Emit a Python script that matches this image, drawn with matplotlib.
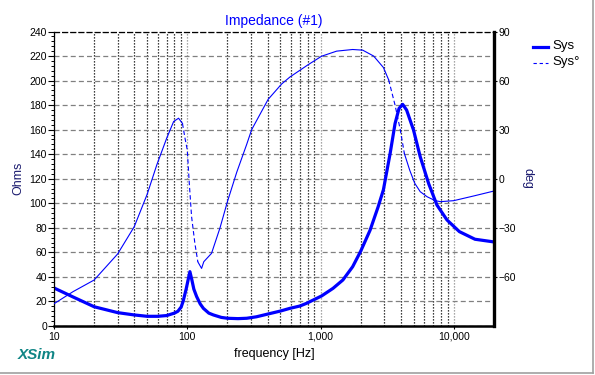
import numpy as np
import matplotlib
matplotlib.use('Agg')
import matplotlib.pyplot as plt
from matplotlib.lines import Line2D
from matplotlib.ticker import FixedLocator, LogLocator, NullFormatter, FixedFormatter, MultipleLocator

plt.rcParams['font.family'] = ['Liberation Sans', 'DejaVu Sans']

# ---- data ----
imp_freq = [10, 14, 20, 30, 40, 50, 60, 70, 80, 85, 90, 93, 98, 104.6, 108, 112, 117.5, 125, 132,
            145, 157, 180, 200, 240, 279, 330, 404, 500, 589, 700, 785, 1018, 1240, 1470, 1740,
            2000, 2350, 2700, 2960, 3330, 3620, 3880, 4130, 4420, 4980, 5590, 6470, 7460, 8880,
            11000, 14400, 20000]
imp_ohm = [31, 23.5, 15.7, 10.9, 9, 7.9, 7.9, 8.5, 10.5, 12, 15.5, 20, 30, 44.3, 38, 30, 24, 18, 14.4,
           10.5, 9, 7, 6.3, 6, 6.3, 7.5, 9.8, 12.2, 14.4, 16.3, 18.5, 24.5, 30.7, 37.5, 48.3,
           61, 78, 97, 111, 141, 165, 177.4, 180.6, 176, 159.7, 138, 116, 98.6, 86.4,
           76.9, 70.7, 68.5]

phase_freq = [10, 13.9, 20, 30, 40, 50, 59, 70, 79, 86, 92, 96, 100, 103.5, 107.7, 114, 120, 128,
              133, 152, 176, 200, 235, 279, 304, 404, 510, 589, 810, 1018, 1320, 1740, 2070,
              2500, 2960, 3240, 3620, 3960, 4250, 4660, 5090, 5590, 6300, 7250, 7940, 9960,
              14120, 20000]
phase_deg = [-76.4, -69, -61.9, -46, -29.3, -9.5, 8.4, 24.7, 35, 37, 33.8, 25, 17.6, -2.8, -23.2,
             -39.5, -50.8, -54.8, -50.7, -45.6, -30, -14, 4, 21, 30, 48.5, 57.9, 62.2, 69.8,
             74.9, 78, 79, 78.6, 75, 68, 60.5, 45, 30, 15.5, 5.3, -2.8, -7.9, -11, -13.4, -14,
             -13.4, -10.5, -7.5]

ohm_ticks = list(range(0, 241, 20))
deg_ticks = [90, 60, 30, 0, -30, -60]
freq_ticks = [10, 100, 1000, 10000]
freq_labels = ['10', '100', '1,000', '10,000']

BLUE = '#0000ff'

# ---- layout ----
W, H = 595, 375
fig = plt.figure(figsize=(W / 100, H / 100), dpi=100)
L, R, T, B = 54, 494, 31.5, 326
ax = fig.add_axes([L / W, 1 - B / H, (R - L) / W, (B - T) / H])
ax.set_xscale('log')
ax.set_xlim(10, 20000)
ax.set_ylim(0, 240)

# grids
ax.xaxis.set_major_locator(FixedLocator(freq_ticks))
ax.xaxis.set_major_formatter(FixedFormatter(freq_labels))
ax.xaxis.set_minor_locator(LogLocator(base=10, subs=np.arange(2, 10)))
ax.xaxis.set_minor_formatter(NullFormatter())
ax.yaxis.set_major_locator(FixedLocator(ohm_ticks))
ax.yaxis.set_minor_locator(MultipleLocator(4))

ax.xaxis.grid(True, which='major', color='#8a8a8a', linestyle=(0, (1, 1.4)), lw=0.9)
ax.xaxis.grid(True, which='minor', color='black', linestyle=(0, (1, 1.4)), lw=0.9)
ax.yaxis.grid(True, which='major', color='#808080', linestyle=(0, (4, 2.5)), lw=0.9)
ax.set_axisbelow(True)

ax.tick_params(axis='y', which='major', direction='out', length=4, width=0.8, labelsize=7.5,
               pad=1, colors='black')
ax.tick_params(axis='y', which='minor', direction='out', length=2.2, width=0.7)
ax.tick_params(axis='x', which='major', direction='out', length=2, width=0.8, labelsize=7.5, pad=2)
ax.tick_params(axis='x', which='minor', length=0)

for s in ['left']:
    ax.spines[s].set_linewidth(0.9)
ax.spines['top'].set_linestyle((0, (4, 2.5)))
ax.spines['top'].set_linewidth(0.9)
ax.spines['bottom'].set_linewidth(1.8)
ax.spines['right'].set_visible(False)

ax.plot(imp_freq, imp_ohm, color=BLUE, lw=2.3, solid_joinstyle='round')

ax.set_ylabel('Ohms', fontsize=9, color='#1c1c70', labelpad=4)
ax.set_xlabel('frequency [Hz]', fontsize=9, color='black', labelpad=5)
ax.set_title('Impedance (#1)', fontsize=10, color=BLUE, pad=5)

# ---- phase axis ----
ax2 = ax.twinx()
ax2.set_ylim(-90, 90)
ax2.set_xlim(10, 20000)
ax2.yaxis.set_major_locator(FixedLocator(deg_ticks))
ax2.tick_params(axis='y', direction='out', length=2.5, width=0.8, labelsize=7.5, pad=1)
for s in ['left', 'top', 'bottom']:
    ax2.spines[s].set_visible(False)
ax2.spines['right'].set_linewidth(2.4)
ax2.set_ylabel('deg', fontsize=9, color='#1c1c70', rotation=-90, labelpad=12)

# phase: solid where gentle, dashed where steep
pf = np.array(phase_freq, dtype=float)
pd_ = np.array(phase_deg, dtype=float)
slope = np.abs(np.diff(pd_)) / np.diff(np.log10(pf))
steep = slope > 290
start = 0
for i in range(1, len(steep) + 1):
    if i == len(steep) or steep[i] != steep[start]:
        xs = pf[start:i + 1]
        ys = pd_[start:i + 1]
        ls = (0, (4, 2.5)) if steep[start] else '-'
        ax2.plot(xs, ys, color=BLUE, lw=0.8, linestyle=ls)
        start = i

# ---- legend ----
fig.add_artist(Line2D([533 / W, 548 / W], [1 - 46.5 / H] * 2, color=BLUE, lw=2.3))
fig.text(552 / W, 1 - 46.5 / H, 'Sys', va='center', ha='left', fontsize=9.5)
fig.add_artist(Line2D([533 / W, 548 / W], [1 - 62.5 / H] * 2, color=BLUE, lw=0.8,
                      linestyle=(0, (3, 2.5))))
fig.text(552 / W, 1 - 62.5 / H, 'Sys°', va='center', ha='left', fontsize=9.5)

# XSim brand
fig.text(18 / W, 1 - 355 / H, 'XSim', va='center', ha='left', fontsize=11,
         fontweight='bold', fontstyle='italic', color='#0f8585')

# frame
fig.add_artist(Line2D([592.5 / W] * 2, [1 - 372.5 / H, 1], color='#a0a0a0', lw=1.2))
fig.add_artist(Line2D([0, 592.5 / W], [1 - 372.5 / H] * 2, color='#a0a0a0', lw=1.2))

fig.savefig('out.png', dpi=100)
